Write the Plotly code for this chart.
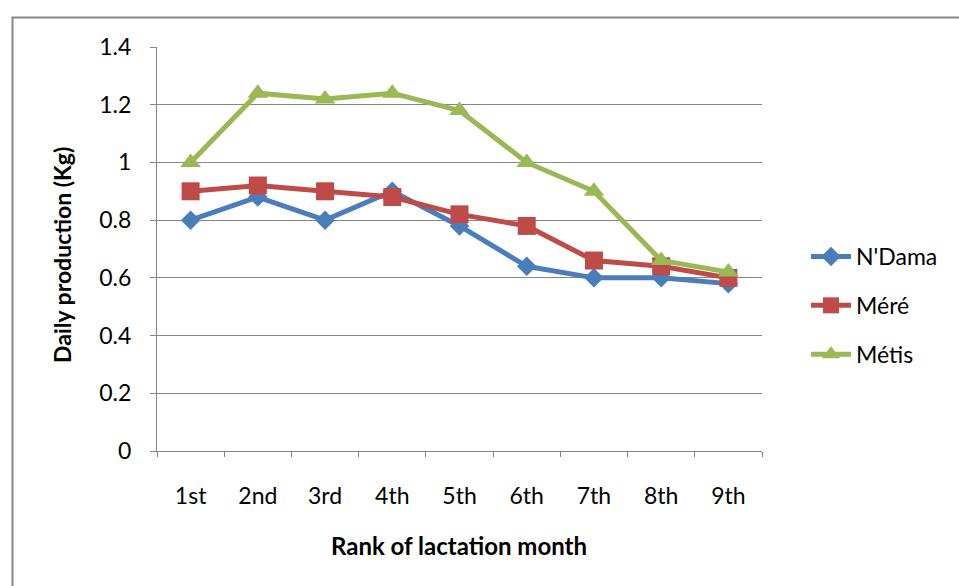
import plotly.graph_objects as go

months = ["1st", "2nd", "3rd", "4th", "5th", "6th", "7th", "8th", "9th"]
ndama = [0.80, 0.88, 0.80, 0.90, 0.78, 0.64, 0.60, 0.60, 0.58]
mere = [0.90, 0.92, 0.90, 0.88, 0.82, 0.78, 0.66, 0.64, 0.60]
metis = [1.00, 1.24, 1.22, 1.24, 1.18, 1.00, 0.90, 0.66, 0.62]
y_ticks = [0, 0.2, 0.4, 0.6, 0.8, 1, 1.2, 1.4]
y_labels = ["0", "0.2", "0.4", "0.6", "0.8", "1", "1.2", "1.4"]

FONT = "Lato, 'Open Sans', sans-serif"
FS = 23
W, H = 959, 586
L, R, T, B = 157, 762, 47, 451

def px(x):
    return (x - L) / (R - L)

def py(y):
    return (B - y) / (B - T)

fig = go.Figure()
series = [
    ("N'Dama", ndama, "#4A7EBB", "diamond", 15),
    ("Méré", mere, "#BE4B48", "square", 18),
    ("Métis", metis, "#98B954", "triangle-up", 18),
]
for i, (name, vals, col, sym, sz) in enumerate(series):
    fig.add_trace(go.Scatter(
        x=months, y=vals, name=name, mode="lines+markers",
        line=dict(color=col, width=5),
        marker=dict(symbol=sym, size=sz, color=col),
        legendgroup=f"g{i}",
    ))

axis_col = "#868686"
fig.update_layout(
    width=W, height=H,
    margin=dict(l=L, r=W - R, t=T, b=H - B),
    paper_bgcolor="white", plot_bgcolor="white",
    font=dict(family=FONT, size=FS, color="black"),
    xaxis=dict(
        type="category", range=[-0.5, 8.5], showgrid=False,
        showline=True, linecolor=axis_col, linewidth=1,
        ticks="outside", tickson="boundaries", ticklen=5, tickcolor=axis_col,
        ticklabelstandoff=24, tickfont=dict(size=FS),
        zeroline=False,
    ),
    yaxis=dict(
        range=[0, 1.4], tickvals=y_ticks, ticktext=y_labels,
        showgrid=True, gridcolor=axis_col, gridwidth=1,
        showline=True, linecolor=axis_col, linewidth=1,
        ticks="outside", ticklen=6, tickcolor=axis_col,
        ticklabelstandoff=14, tickfont=dict(size=FS),
        zeroline=False,
    ),
    legend=dict(
        x=px(806), y=py(235), xanchor="left", yanchor="top",
        font=dict(size=FS), traceorder="grouped", tracegroupgap=16,
        bgcolor="rgba(0,0,0,0)", itemwidth=40,
    ),
    annotations=[
        dict(text="<b>Rank of lactation month</b>", x=px(459), y=py(545),
             xref="paper", yref="paper", showarrow=False,
             font=dict(size=FS + 1), xanchor="center", yanchor="middle"),
        dict(text="<b>Daily production (Kg)</b>", x=px(62), y=py(255),
             xref="paper", yref="paper", showarrow=False, textangle=-90,
             font=dict(size=FS), xanchor="center", yanchor="middle"),
    ],
    shapes=[
        dict(type="rect", xref="paper", yref="paper",
             x0=px(12.5), y0=py(620), x1=px(990), y1=py(17.5),
             line=dict(color=axis_col, width=2), fillcolor="rgba(0,0,0,0)",
             layer="below"),
    ],
)

fig.write_html("out.html", config={"displayModeBar": False},
               post_script="document.body.style.margin='0';")
